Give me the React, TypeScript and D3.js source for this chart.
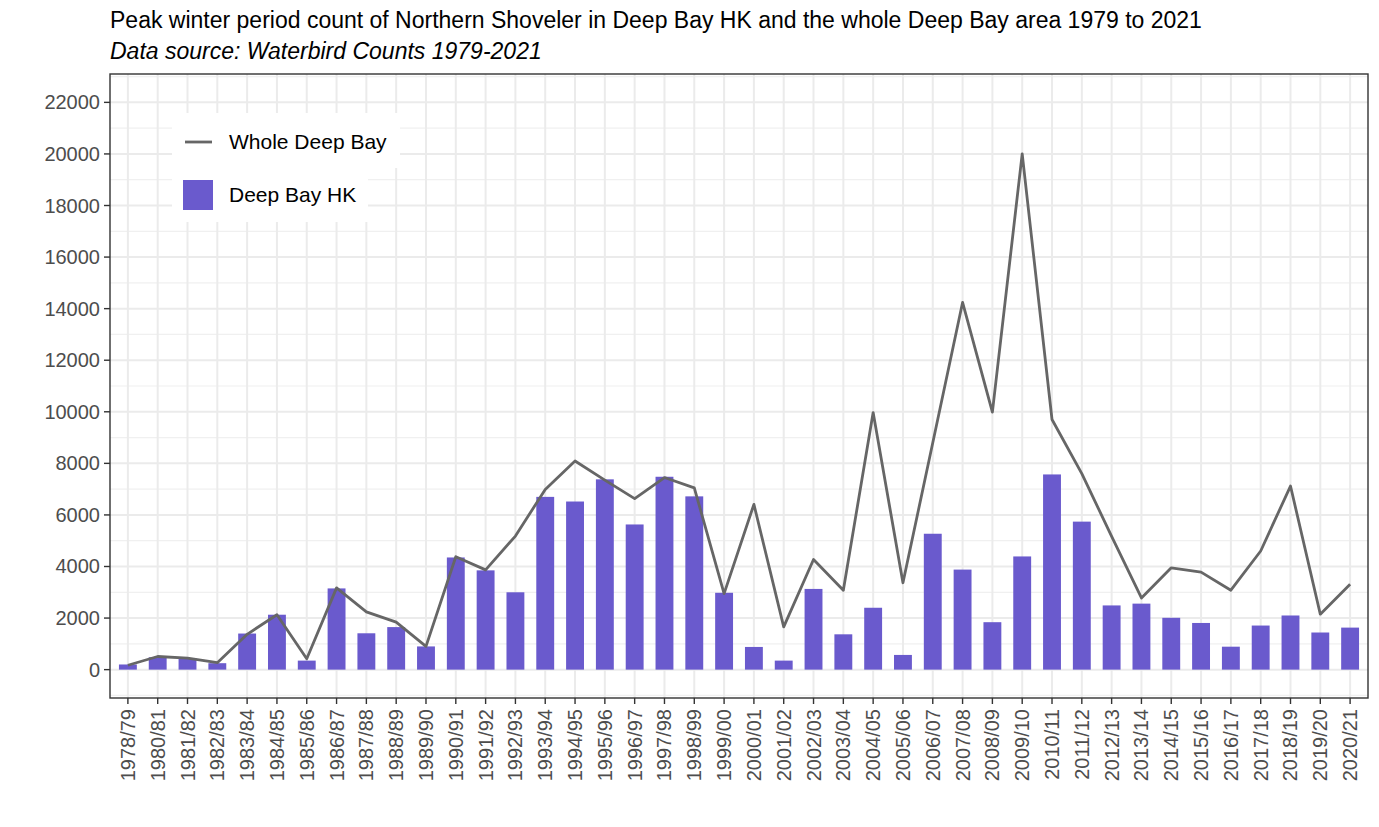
import React, { useEffect, useRef } from 'react';
import * as d3 from 'd3';

const seasons = [
  '1978/79', '1980/81', '1981/82', '1982/83', '1983/84', '1984/85', '1985/86',
  '1986/87', '1987/88', '1988/89', '1989/90', '1990/91', '1991/92', '1992/93',
  '1993/94', '1994/95', '1995/96', '1996/97', '1997/98', '1998/99', '1999/00',
  '2000/01', '2001/02', '2002/03', '2003/04', '2004/05', '2005/06', '2006/07',
  '2007/08', '2008/09', '2009/10', '2010/11', '2011/12', '2012/13', '2013/14',
  '2014/15', '2015/16', '2016/17', '2017/18', '2018/19', '2019/20', '2020/21'
];

const deepBayHK = [
  200, 480, 450, 250, 1400, 2130, 350,
  3150, 1410, 1650, 900, 4350, 3850, 3000,
  6700, 6520, 7380, 5630, 7480, 6720, 2980,
  880, 350, 3130, 1370, 2400, 570, 5270,
  3880, 1840, 4390, 7570, 5740, 2490, 2560,
  2010, 1810, 890, 1710, 2100, 1440, 1630
];

const wholeDeepBay = [
  170, 510, 450, 270, 1370, 2130, 420,
  3170, 2240, 1840, 900, 4380, 3870, 5180,
  6990, 8090, 7350, 6630, 7450, 7050, 2950,
  6410, 1660, 4270, 3080, 9970, 3370, 8800,
  14240, 9990, 20000, 9700, 7600, 5170, 2780,
  3950, 3780, 3080, 4600, 7120, 2150, 3310
];

const yTicks = [0, 2000, 4000, 6000, 8000, 10000, 12000, 14000, 16000, 18000, 20000, 22000];
const yMinor = [-1000, 1000, 3000, 5000, 7000, 9000, 11000, 13000, 15000, 17000, 19000, 21000, 23000];

const TITLE = 'Peak winter period count of Northern Shoveler in Deep Bay HK and the whole Deep Bay area 1979 to 2021';
const SUBTITLE = 'Data source: Waterbird Counts 1979-2021';

const BAR_COLOR = '#6a5acd';
const LINE_COLOR = '#666666';
const FONT = 'Liberation Sans, Arial, sans-serif';

const App: React.FC = () => {
  const svgRef = useRef<SVGSVGElement>(null);

  useEffect(() => {
    if (!svgRef.current) {
      return;
    }
    const width = 1379;
    const height = 827;
    const left = 110;
    const right = 1368;
    const top = 74;
    const bottom = 698;

    const svg = d3.select(svgRef.current);
    svg.selectAll('*').remove();
    svg.attr('width', width).attr('height', height);

    svg.append('rect').attr('width', width).attr('height', height).attr('fill', '#ffffff');

    const x = d3.scalePoint<string>().domain(seasons).range([left, right]).padding(0.6);
    const y = d3.scaleLinear().domain([-1100, 23100]).range([bottom, top]);
    const barWidth = x.step() * 0.6;

    // grid
    const grid = svg.append('g');
    grid.selectAll('line.minor')
      .data(yMinor)
      .enter()
      .append('line')
      .attr('x1', left)
      .attr('x2', right)
      .attr('y1', (d) => y(d))
      .attr('y2', (d) => y(d))
      .attr('stroke', '#f0f0f0')
      .attr('stroke-width', 1.2);
    grid.selectAll('line.major')
      .data(yTicks)
      .enter()
      .append('line')
      .attr('x1', left)
      .attr('x2', right)
      .attr('y1', (d) => y(d))
      .attr('y2', (d) => y(d))
      .attr('stroke', '#ebebeb')
      .attr('stroke-width', 2);
    grid.selectAll('line.vert')
      .data(seasons)
      .enter()
      .append('line')
      .attr('x1', (d) => x(d) as number)
      .attr('x2', (d) => x(d) as number)
      .attr('y1', top)
      .attr('y2', bottom)
      .attr('stroke', '#ebebeb')
      .attr('stroke-width', 2);

    // bars
    svg.append('g')
      .selectAll('rect')
      .data(seasons)
      .enter()
      .append('rect')
      .attr('x', (d) => (x(d) as number) - barWidth / 2)
      .attr('width', barWidth)
      .attr('y', (_d, i) => y(deepBayHK[i]))
      .attr('height', (_d, i) => y(0) - y(deepBayHK[i]))
      .attr('fill', BAR_COLOR);

    // line
    const line = d3.line<number>()
      .x((_d, i) => x(seasons[i]) as number)
      .y((d) => y(d));
    svg.append('path')
      .datum(wholeDeepBay)
      .attr('d', line)
      .attr('fill', 'none')
      .attr('stroke', LINE_COLOR)
      .attr('stroke-width', 2.8)
      .attr('stroke-linejoin', 'round');

    // legend
    const legend = svg.append('g');
    legend.append('rect').attr('x', 172).attr('y', 113).attr('width', 228).attr('height', 55).attr('fill', '#ffffff');
    legend.append('rect').attr('x', 172).attr('y', 168).attr('width', 196).attr('height', 54).attr('fill', '#ffffff');
    legend.append('line')
      .attr('x1', 185).attr('x2', 212).attr('y1', 142).attr('y2', 142)
      .attr('stroke', LINE_COLOR).attr('stroke-width', 2.8);
    legend.append('text')
      .attr('x', 229).attr('y', 142).attr('dy', '0.35em')
      .attr('font-family', FONT).attr('font-size', 21).attr('fill', '#000')
      .text('Whole Deep Bay');
    legend.append('rect')
      .attr('x', 183).attr('y', 180).attr('width', 30).attr('height', 30)
      .attr('fill', BAR_COLOR);
    legend.append('text')
      .attr('x', 229).attr('y', 195).attr('dy', '0.35em')
      .attr('font-family', FONT).attr('font-size', 21).attr('fill', '#000')
      .text('Deep Bay HK');

    // panel border
    svg.append('rect')
      .attr('x', left).attr('y', top)
      .attr('width', right - left).attr('height', bottom - top)
      .attr('fill', 'none').attr('stroke', '#333333').attr('stroke-width', 1.4);

    // y axis
    const yAxis = svg.append('g');
    yAxis.selectAll('line')
      .data(yTicks)
      .enter()
      .append('line')
      .attr('x1', left - 6).attr('x2', left)
      .attr('y1', (d) => y(d)).attr('y2', (d) => y(d))
      .attr('stroke', '#333333').attr('stroke-width', 1.4);
    yAxis.selectAll('text')
      .data(yTicks)
      .enter()
      .append('text')
      .attr('x', left - 10)
      .attr('y', (d) => y(d))
      .attr('dy', '0.35em')
      .attr('text-anchor', 'end')
      .attr('font-family', FONT)
      .attr('font-size', 20)
      .attr('fill', '#4d4d4d')
      .text((d) => String(d));

    // x axis
    const xAxis = svg.append('g');
    xAxis.selectAll('line')
      .data(seasons)
      .enter()
      .append('line')
      .attr('x1', (d) => x(d) as number).attr('x2', (d) => x(d) as number)
      .attr('y1', bottom).attr('y2', bottom + 6)
      .attr('stroke', '#333333').attr('stroke-width', 1.4);
    xAxis.selectAll('text')
      .data(seasons)
      .enter()
      .append('text')
      .attr('transform', (d) => `translate(${x(d)}, ${bottom + 11}) rotate(-90)`)
      .attr('dy', '0.35em')
      .attr('text-anchor', 'end')
      .attr('font-family', FONT)
      .attr('font-size', 20)
      .attr('fill', '#4d4d4d')
      .text((d) => d);

    // titles
    svg.append('text')
      .attr('x', left).attr('y', 28)
      .attr('font-family', FONT).attr('font-size', 23).attr('fill', '#000')
      .text(TITLE);
    svg.append('text')
      .attr('x', left).attr('y', 59)
      .attr('font-family', FONT).attr('font-size', 23).attr('font-style', 'italic').attr('fill', '#000')
      .text(SUBTITLE);
  }, []);

  return <svg ref={svgRef} style={{ position: 'absolute', left: 0, top: 0 }} />;
};

export default App;
